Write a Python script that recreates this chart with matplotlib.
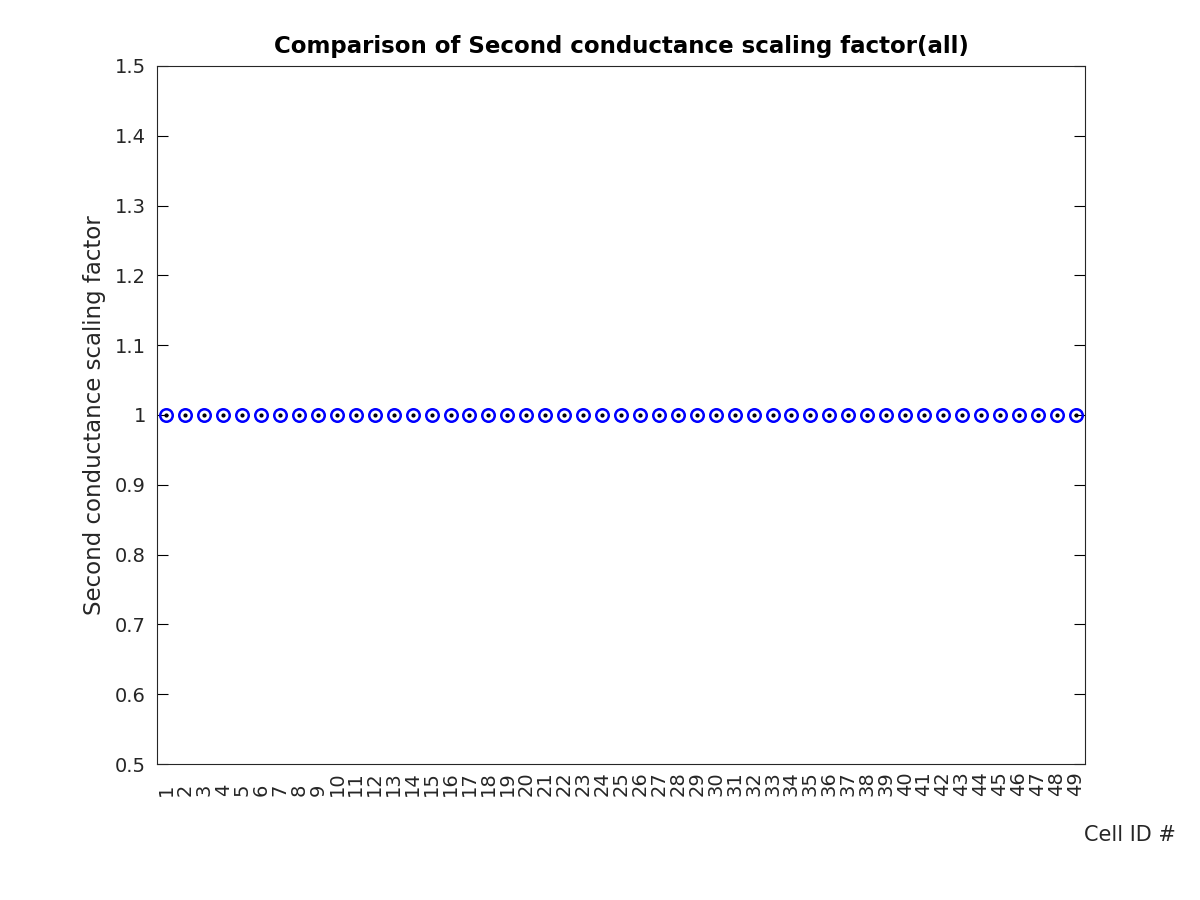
import numpy as np
import matplotlib
matplotlib.use('Agg')
import matplotlib.pyplot as plt

cell_ids = list(range(1, 50))
scaling = [1.0] * 49
tick_labels = [str(c) for c in cell_ids]
ytick_vals = [0.5, 0.6, 0.7, 0.8, 0.9, 1.0, 1.1, 1.2, 1.3, 1.4, 1.5]
ytick_labels = ['0.5', '0.6', '0.7', '0.8', '0.9', '1', '1.1', '1.2', '1.3', '1.4', '1.5']

fig = plt.figure(figsize=(12, 9), dpi=100)
ax = fig.add_axes([0.1308, 0.1511, 0.7734, 0.7756])

# blue open circles with a black dot in the middle
ax.plot(cell_ids, scaling, 'o', color='blue', markersize=9, markerfacecolor='none', markeredgewidth=1.8)
ax.plot(cell_ids, scaling, '.', color='black', markersize=4)

ax.set_xlim(0.5, 49.5)
ax.set_ylim(0.5, 1.5)
ax.set_xticks(cell_ids)
ax.set_xticklabels(tick_labels, rotation=90, fontsize=14, color='#262626', va='bottom')
ax.tick_params(axis='x', length=0, pad=23)
ax.set_yticks(ytick_vals)
ax.set_yticklabels(ytick_labels)
ax.tick_params(axis='y', direction='in', right=True, length=8, pad=8, labelsize=14, labelcolor='#262626')
for s in ax.spines.values():
    s.set_color('#262626')

ax.set_title('Comparison of Second conductance scaling factor(all)', fontsize=16.5, fontweight='bold', pad=9)
fig.text(0.079, 0.539, 'Second conductance scaling factor', fontsize=16.5, rotation=90,
         ha='center', va='center', color='#262626')
fig.text(0.9417, 0.072, 'Cell ID #', fontsize=15, ha='center', va='center', color='#262626')

plt.savefig('out.png')
